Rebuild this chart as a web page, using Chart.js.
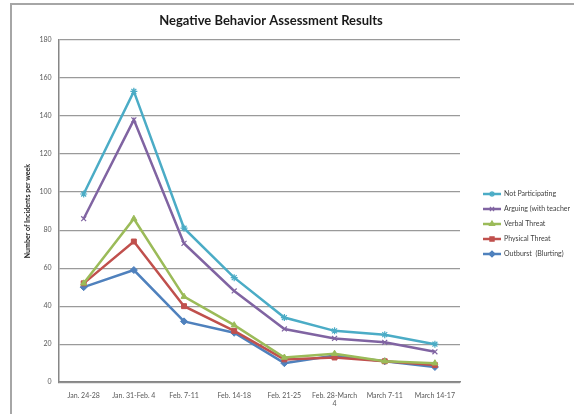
<!DOCTYPE html>
<html>
<head>
<meta charset="utf-8">
<script src="https://cdn.jsdelivr.net/npm/chart.js@4"></script>
<style>
  html, body { margin: 0; padding: 0; background: #fff; }
  #wrap { position: relative; width: 574px; height: 414px; }
</style>
</head>
<body>
<div id="wrap"><canvas id="chart" width="574" height="414"></canvas></div>
<script>
// data
const weeks = ["Jan. 24-28", "Jan. 31-Feb. 4", "Feb. 7-11", "Feb. 14-18", "Feb. 21-25", ["Feb. 28-March", "4"], "March 7-11", "March 14-17"];
const notParticipating = [99, 153, 81, 55, 34, 27, 25, 20];
const arguing = [86, 138, 73, 48, 28, 23, 21, 16];
const verbalThreat = [52, 86, 45, 30, 13, 15, 11, 10];
const physicalThreat = [52, 74, 40, 27, 12, 13, 11, 9];
const outburst = [50, 59, 32, 26, 10, 14, 11, 8];
const yTicks = [0, 20, 40, 60, 80, 100, 120, 140, 160, 180];

const seriesNames = ["Not Participating", "Arguing (with teacher", "Verbal Threat", "Physical Threat", "Outburst  (Blurting)"];
const seriesColors = ["#4bacc6", "#8064a2", "#9bbb59", "#c0504d", "#4f81bd"];
const seriesMarkers = ["star", "crossRot", "triangle", "rect", "rectRot"];
const seriesData = [notParticipating, arguing, verbalThreat, physicalThreat, outburst];

const FONT = "Lato, 'Open Sans', sans-serif";
const titleText = "Negative Behavior Assessment Results";

const datasets = seriesData.map((d, i) => ({
    label: seriesNames[i],
    data: d,
    borderColor: seriesColors[i],
    backgroundColor: seriesColors[i],
    borderWidth: 2.5,
    pointStyle: seriesMarkers[i],
    pointRadius: 3.5,
    pointBorderWidth: seriesMarkers[i] === "star" || seriesMarkers[i] === "crossRot" ? 1.2 : 1,
    tension: 0,
}));

// outer frame, title and legend (line + marker) like the spreadsheet original
const framePlugin = {
    id: "frame",
    afterDraw(chart) {
        const ctx = chart.ctx;
        ctx.save();
        ctx.strokeStyle = "#a6a6a6";
        ctx.lineWidth = 2;
        ctx.beginPath();
        ctx.moveTo(11, 414);
        ctx.lineTo(11, 4);
        ctx.lineTo(574, 4);
        ctx.stroke();

        ctx.fillStyle = "#1a1a1a";
        ctx.font = "bold 13px " + FONT;
        ctx.textAlign = "center";
        ctx.textBaseline = "middle";
        ctx.fillText(titleText, 271, 21);

        const lx = 483, ly0 = 194, step = 15;
        ctx.font = "7px " + FONT;
        ctx.textAlign = "left";
        seriesNames.forEach((name, i) => {
            const y = ly0 + i * step;
            ctx.strokeStyle = seriesColors[i];
            ctx.fillStyle = seriesColors[i];
            ctx.lineWidth = 2.5;
            ctx.beginPath();
            ctx.moveTo(lx, y);
            ctx.lineTo(lx + 18, y);
            ctx.stroke();
            ctx.lineWidth = 1.2;
            Chart.helpers.drawPoint(ctx, {
                pointStyle: seriesMarkers[i],
                radius: 3,
                borderWidth: 1.2,
                rotation: 0,
            }, lx + 9, y);
            ctx.fillStyle = "#404040";
            ctx.fillText(name, lx + 21, y);
        });
        ctx.restore();
    }
};

new Chart(document.getElementById("chart").getContext("2d"), {
    type: "line",
    data: { labels: weeks, datasets: datasets },
    options: {
        responsive: false,
        animation: false,
        layout: { padding: { left: 24, right: 114, top: 40, bottom: -3 } },
        plugins: {
            legend: { display: false },
            tooltip: { enabled: false },
            title: { display: false },
        },
        scales: {
            x: {
                offset: true,
                grid: { display: false, drawTicks: false },
                border: { color: "#868686", width: 1.5 },
                ticks: {
                    color: "#595959",
                    font: { family: FONT, size: 7 },
                    maxRotation: 0,
                    autoSkip: false,
                    padding: 9,
                },
            },
            y: {
                min: 0,
                max: 180,
                afterBuildTicks(axis) { axis.ticks = yTicks.map(v => ({ value: v })); },
                grid: { color: "#9a9a9a", lineWidth: 1.2, drawTicks: false },
                border: { color: "#868686", width: 1.5 },
                ticks: {
                    color: "#595959",
                    font: { family: FONT, size: 7 },
                    padding: 7,
                },
                title: {
                    display: true,
                    text: "Number of Incidents per week",
                    color: "#1a1a1a",
                    font: { family: FONT, size: 7, weight: "bold" },
                    padding: { top: 0, bottom: 0 },
                },
            },
        },
    },
    plugins: [framePlugin],
});
</script>
</body>
</html>
